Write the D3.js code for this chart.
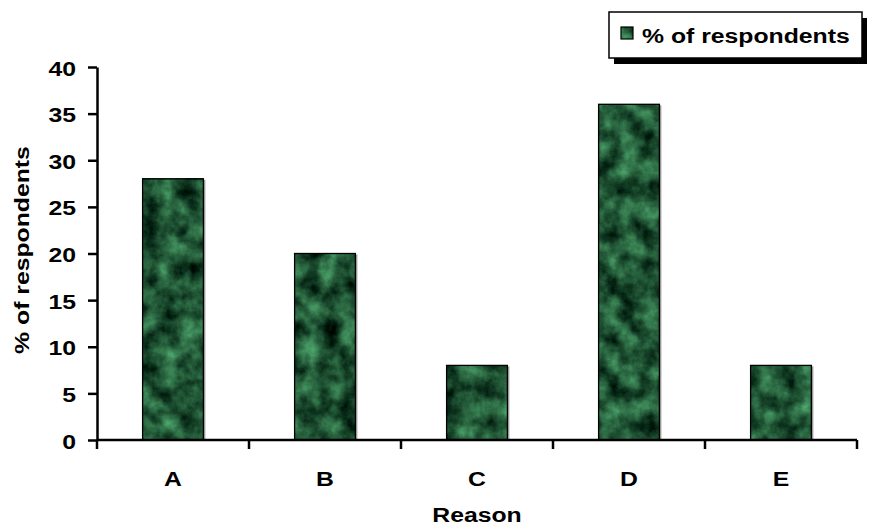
<!DOCTYPE html>
<html>
<head>
<meta charset="utf-8">
<script src="https://cdn.jsdelivr.net/npm/d3@7"></script>
<style>
  body { margin: 0; background: #fff; }
  text { font-family: "Liberation Sans", Arial, sans-serif; font-weight: bold; fill: #000; }
</style>
</head>
<body>
<svg id="chart"></svg>
<script>
const categories = ["A", "B", "C", "D", "E"];
const values = [28, 20, 8, 36, 8];
const yTicks = [0, 5, 10, 15, 20, 25, 30, 35, 40];
const seriesName = "% of respondents";

const width = 869, height = 528;
const margin = { top: 67, right: 12, bottom: 88, left: 97 };
const fontSize = 21;
const stretch = 1.18; // text in the original is drawn a bit wide

const svg = d3.select("#chart")
    .attr("width", width)
    .attr("height", height);

// dark green marble texture
const defs = svg.append("defs");
const filter = defs.append("filter")
    .attr("id", "marble")
    .attr("x", 0).attr("y", 0).attr("width", 1).attr("height", 1)
    .attr("color-interpolation-filters", "sRGB");
filter.append("feTurbulence")
    .attr("type", "fractalNoise")
    .attr("baseFrequency", 0.05)
    .attr("numOctaves", 5)
    .attr("seed", 3)
    .attr("result", "noise");
filter.append("feColorMatrix")
    .attr("in", "noise")
    .attr("type", "matrix")
    .attr("values",
        "0.45 0 0 0 -0.1  " +
        "0.8 0 0 0 -0.07  " +
        "0.55 0 0 0 -0.07  " +
        "0 0 0 0 1");

const x = d3.scaleBand()
    .domain(categories)
    .range([margin.left, width - margin.right])
    .paddingInner(0.6)
    .paddingOuter(0.3);

const y = d3.scaleLinear()
    .domain([0, 40])
    .range([height - margin.bottom, margin.top]);

// draws wide bold text anchored at (tx, ty)
function wideText(parent, tx, ty, str, anchor, rotate) {
    return parent.append("text")
        .attr("transform", `translate(${tx},${ty})` + (rotate ? ` rotate(${rotate})` : "") + ` scale(${stretch},1)`)
        .attr("text-anchor", anchor)
        .attr("font-size", fontSize)
        .text(str);
}

// bars
const bars = svg.append("g");
bars.selectAll("rect.shade")
    .data(values)
    .join("rect")
    .attr("class", "shade")
    .attr("x", (d, i) => x(categories[i]) + 2)
    .attr("y", d => y(d) + 1)
    .attr("width", x.bandwidth())
    .attr("height", d => y(0) - y(d))
    .attr("fill", "#a0a0a0");
bars.selectAll("rect.bar")
    .data(values)
    .join("rect")
    .attr("class", "bar")
    .attr("x", (d, i) => x(categories[i]))
    .attr("y", d => y(d))
    .attr("width", x.bandwidth())
    .attr("height", d => y(0) - y(d))
    .attr("filter", "url(#marble)");
bars.selectAll("rect.outline")
    .data(values)
    .join("rect")
    .attr("class", "outline")
    .attr("x", (d, i) => x(categories[i]))
    .attr("y", d => y(d))
    .attr("width", x.bandwidth())
    .attr("height", d => y(0) - y(d))
    .attr("fill", "none")
    .attr("stroke", "#000")
    .attr("stroke-width", 1.3);

// y axis
const yAxis = svg.append("g")
    .attr("transform", `translate(${margin.left},0)`)
    .call(d3.axisLeft(y).tickValues(yTicks).tickSize(9).tickSizeOuter(0).tickFormat(""));
yAxis.select(".domain").attr("stroke-width", 2.5);
yAxis.selectAll(".tick line").attr("stroke-width", 2.5);
yTicks.forEach(t => {
    wideText(svg, margin.left - 21, y(t) + 8.5, String(t), "end");
});

// x axis with ticks at band boundaries
const xAxisG = svg.append("g")
    .attr("transform", `translate(0,${y(0)})`);
xAxisG.append("line")
    .attr("x1", margin.left)
    .attr("x2", width - margin.right)
    .attr("stroke", "#000")
    .attr("stroke-width", 2.5);
const step = x.step();
const bounds = d3.range(categories.length + 1).map(i => margin.left + i * step);
xAxisG.selectAll("line.tk")
    .data(bounds)
    .join("line")
    .attr("class", "tk")
    .attr("x1", d => d).attr("x2", d => d)
    .attr("y1", 0).attr("y2", 9)
    .attr("stroke", "#000")
    .attr("stroke-width", 2.5);
categories.forEach(c => {
    wideText(svg, x(c) + x.bandwidth() / 2, y(0) + 46, c, "middle");
});

// axis titles
wideText(svg, (margin.left + width - margin.right) / 2, 522, "Reason", "middle");
wideText(svg, 29, 250, "% of respondents", "middle", -90);

// legend
const legend = svg.append("g").attr("transform", "translate(609,12)");
legend.append("rect")
    .attr("x", 5).attr("y", 6)
    .attr("width", 253).attr("height", 46)
    .attr("fill", "#000");
legend.append("rect")
    .attr("width", 253).attr("height", 46)
    .attr("fill", "#fff")
    .attr("stroke", "#000")
    .attr("stroke-width", 1.5);
legend.append("rect")
    .attr("x", 12).attr("y", 15)
    .attr("width", 12).attr("height", 12)
    .attr("filter", "url(#marble)");
legend.append("rect")
    .attr("x", 12).attr("y", 15)
    .attr("width", 12).attr("height", 12)
    .attr("fill", "none")
    .attr("stroke", "#000")
    .attr("stroke-width", 1.2);
wideText(legend, 33, 31, seriesName, "start");
</script>
</body>
</html>
